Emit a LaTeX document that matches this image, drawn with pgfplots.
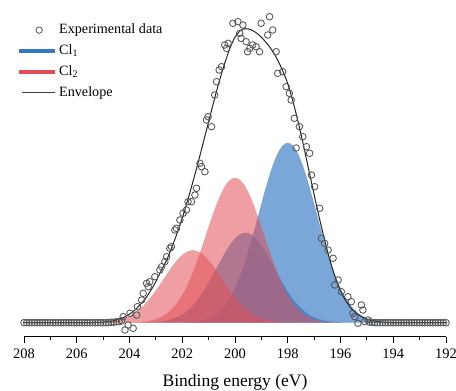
\documentclass[border=0pt]{standalone}
\usepackage{fontspec}
\setmainfont{Liberation Serif}
\usepackage{pgfplots}
\pgfplotsset{compat=1.18}
\definecolor{clblue}{RGB}{50,120,195}
\definecolor{clred}{RGB}{225,80,85}
\definecolor{markgray}{RGB}{85,85,85}
\pgfplotsset{
  legline/.style={legend image code/.code={\draw[##1] (0bp,0bp) -- (36bp,0bp);}},
  legline2/.style={legend image code/.code={\draw[##1] (3bp,0bp) -- (36bp,0bp);}},
  legmark/.style={legend image code/.code={\draw[##1] plot coordinates {(20bp,0bp)};}},
}
\begin{document}
\begin{tikzpicture}
\useasboundingbox (-24bp,-54.3bp) rectangle (432bp,336.7bp);
\begin{axis}[
  at={(0,0)}, anchor=south west,
  scale only axis, width=422bp, height=336.7bp,
  xmin=192, xmax=208, x dir=reverse, ymin=-14, ymax=322.7,
  axis x line=bottom, axis y line=none,
  axis line style={-, line width=0.9bp, black},
  xtick={192,194,...,208}, minor xtick={193,195,...,207},
  tick align=outside, major tick length=6bp, minor tick length=3.5bp,
  every tick/.style={black, line width=0.9bp},
  /pgf/number format/assume math mode=true,
  tick label style={font=\fontsize{14.5}{16}\selectfont},
  xticklabel style={yshift=-3bp},
  xlabel={Binding energy (eV)},
  xlabel style={font=\fontsize{17.6}{20}\selectfont, yshift=-9bp},
  legend cell align=left,
  legend style={draw=none, fill=none, at={(-0.0166,0.937)}, anchor=north west,
    inner sep=0pt, row sep=3.4bp, font=\fontsize{14.2}{16}\selectfont,
    nodes={inner sep=2bp, text height=10bp, text depth=3.5bp}},
]
% Cl1 doublet (blue)
\addplot[forget plot, smooth, draw=none, fill=clblue, fill opacity=0.65] table {
202.6 0.0
202.4 0.06
202.2 0.1
202.0 0.2
201.8 0.5
201.6 0.8
201.4 1.5
201.2 2.6
201.0 4.4
200.8 7.1
200.6 11.0
200.4 16.7
200.2 24.4
200.0 34.5
199.8 47.2
199.6 62.5
199.4 80.1
199.2 99.3
199.0 119.1
198.8 138.2
198.6 155.1
198.4 168.5
198.2 177.0
198.0 180.0
197.8 177.0
197.6 168.5
197.4 155.1
197.2 138.2
197.0 119.1
196.8 99.3
196.6 80.1
196.4 62.5
196.2 47.2
196.0 34.5
195.8 24.4
195.6 16.7
195.4 11.0
195.2 7.1
195.0 4.4
194.8 2.6
194.6 1.5
194.4 0.8
194.2 0.5
194.0 0.2
193.8 0.1
193.6 0.06
193.4 0.0
} \closedcycle;
\addplot[forget plot, smooth, draw=none, fill=clblue, fill opacity=0.65] table {
204.0 0.0
203.8 0.06
203.6 0.1
203.4 0.2
203.2 0.4
203.0 0.8
202.8 1.3
202.6 2.2
202.4 3.5
202.2 5.5
202.0 8.3
201.8 12.2
201.6 17.2
201.4 23.6
201.2 31.2
201.0 40.0
200.8 49.6
200.6 59.5
200.4 69.1
200.2 77.6
200.0 84.2
199.8 88.5
199.6 90.0
199.4 88.5
199.2 84.2
199.0 77.6
198.8 69.1
198.6 59.5
198.4 49.6
198.2 40.0
198.0 31.2
197.8 23.6
197.6 17.2
197.4 12.2
197.2 8.3
197.0 5.5
196.8 3.5
196.6 2.2
196.4 1.3
196.2 0.8
196.0 0.4
195.8 0.2
195.6 0.1
195.4 0.06
195.2 0.0
} \closedcycle;
% Cl2 doublet (red)
\addplot[forget plot, smooth, draw=none, fill=clred, fill opacity=0.55] table {
204.4 0.0
204.2 0.1
204.0 0.2
203.8 0.4
203.6 0.7
203.4 1.2
203.2 2.1
203.0 3.5
202.8 5.7
202.6 8.9
202.4 13.4
202.2 19.6
202.0 27.8
201.8 38.0
201.6 50.3
201.4 64.5
201.2 80.0
201.0 95.9
200.8 111.3
200.6 125.0
200.4 135.7
200.2 142.6
200.0 145.0
199.8 142.6
199.6 135.7
199.4 125.0
199.2 111.3
199.0 95.9
198.8 80.0
198.6 64.5
198.4 50.3
198.2 38.0
198.0 27.8
197.8 19.6
197.6 13.4
197.4 8.9
197.2 5.7
197.0 3.5
196.8 2.1
196.6 1.2
196.4 0.7
196.2 0.4
196.0 0.2
195.8 0.1
195.6 0.0
} \closedcycle;
\addplot[forget plot, smooth, draw=none, fill=clred, fill opacity=0.55] table {
205.8 0.0
205.6 0.1
205.4 0.2
205.2 0.3
205.0 0.6
204.8 1.1
204.6 1.8
204.4 2.8
204.2 4.4
204.0 6.7
203.8 9.8
203.6 13.9
203.4 19.0
203.2 25.2
203.0 32.3
202.8 40.0
202.6 48.0
202.4 55.7
202.2 62.5
202.0 67.9
201.8 71.3
201.6 72.5
201.4 71.3
201.2 67.9
201.0 62.5
200.8 55.7
200.6 48.0
200.4 40.0
200.2 32.3
200.0 25.2
199.8 19.0
199.6 13.9
199.4 9.8
199.2 6.7
199.0 4.4
198.8 2.8
198.6 1.8
198.4 1.1
198.2 0.6
198.0 0.3
197.8 0.2
197.6 0.1
197.4 0.0
} \closedcycle;
% experimental data
\addplot[forget plot, only marks, mark=o, mark size=3.3bp, color=markgray, mark options={line width=0.85bp}] table {
208.0 0
207.9 0
207.8 0
207.7 0
207.6 0
207.5 0
207.4 0
207.3 0
207.2 0
207.1 0
207.0 0
206.9 0
206.8 0
206.7 0
206.6 0
206.5 0
206.4 0
206.3 0
206.2 0
206.1 0
206.0 0
205.9 0
205.8 0
205.7 0
205.6 0
205.5 0
205.4 0
205.3 0
205.2 0
205.1 0
205.0 0
204.9 0
204.8 0
204.7 0.5
204.6 0.5
204.5 1.0
204.40 1.0
204.30 2.0
204.24 6.0
204.17 -7.3
204.05 -2.3
203.98 9.4
203.86 -5.6
203.73 7.7
203.70 16.0
203.54 22.7
203.48 29.4
203.35 39.4
203.29 36.0
203.23 41.0
203.04 46.0
202.85 52.7
202.78 56.0
202.66 61.0
202.59 66.0
202.47 74.4
202.41 76.0
202.28 92.7
202.22 94.4
202.09 102.7
201.97 109.4
201.84 112.7
201.78 121.0
201.65 121.0
201.52 127.7
201.46 134.4
201.33 159.4
201.27 156.0
201.14 151.0
201.08 202.7
201.02 206.0
200.89 196.0
200.77 227.7
200.70 241.0
200.60 252.7
200.51 256.0
200.39 277.7
200.32 274.4
200.26 279.4
200.08 299.4
199.89 301.0
199.82 289.4
199.77 284.4
199.70 297.7
199.58 281.0
199.52 271.0
199.44 274.4
199.33 277.7
199.20 276.0
199.07 271.0
199.01 299.4
198.76 287.7
198.69 306.0
198.57 292.7
198.44 271.0
198.38 249.4
198.19 251.0
198.06 236.0
197.94 229.4
197.87 222.7
197.75 204.4
197.68 174.7
197.56 196.0
197.43 186.0
197.29 176.0
197.17 169.4
197.10 147.7
196.98 136.0
196.79 114.4
196.72 84.4
196.60 79.4
196.47 72.7
196.28 64.4
196.22 37.7
196.09 42.7
195.97 31.0
195.72 26.0
195.59 21.0
195.53 9.4
195.46 6.0
195.34 -0.6
195.21 17.7
195.15 12.7
195.08 1.0
194.96 2.7
194.9 0.5
194.8 0.5
194.7 0
194.6 0
194.5 0
194.4 0
194.3 0
194.2 0
194.1 0
194.0 0
193.9 0
193.8 0
193.7 0
193.6 0
193.5 0
193.4 0
193.3 0
193.2 0
193.1 0
193.0 0
192.9 0
192.8 0
192.7 0
192.6 0
192.5 0
192.4 0
192.3 0
192.2 0
192.1 0
192.0 0
};
% envelope
\addplot[forget plot, smooth, black!85, line width=1bp] table {
208.0 0
206.0 0
205.8 0.05
205.6 0.1
205.4 0.2
205.2 0.3
205.0 0.6
204.8 1.2
204.6 2.0
204.4 3.5
204.2 5.5
204.0 8.5
203.8 12.5
203.6 18.0
203.4 24.0
203.2 32.0
203.0 41.0
202.8 52.0
202.6 62.0
202.4 75.0
202.2 89.0
202.0 104.5
201.8 122.0
201.6 140.5
201.4 160.0
201.2 180.5
201.0 201.0
200.8 221.5
200.6 241.0
200.4 258.5
200.2 274.0
200.0 285.5
199.8 292.0
199.6 294.0
199.4 293.0
199.2 290.0
199.0 285.5
198.8 279.5
198.6 272.5
198.4 263.5
198.2 252.5
198.0 239.0
197.8 221.0
197.6 200.0
197.4 177.0
197.2 152.5
197.0 128.0
196.8 104.5
196.6 82.5
196.4 62.5
196.2 45.5
196.0 32.0
195.8 22.0
195.6 14.5
195.4 9.5
195.2 6.0
195.0 3.5
194.8 2.0
194.6 1.2
194.4 0.6
194.2 0.3
194.0 0.15
193.8 0.05
193.6 0
192.0 0
};
% legend
\addlegendimage{legmark, only marks, mark=o, mark size=3.2bp, color=markgray, mark options={line width=0.8bp}}
\addlegendentry{Experimental data}
\addlegendimage{legline, clblue, line width=4bp}
\addlegendentry{Cl\textsubscript{1}}
\addlegendimage{legline, clred, line width=4bp}
\addlegendentry{Cl\textsubscript{2}}
\addlegendimage{legline2, black!75, line width=0.9bp}
\addlegendentry{Envelope}
\end{axis}
\end{tikzpicture}
\end{document}
